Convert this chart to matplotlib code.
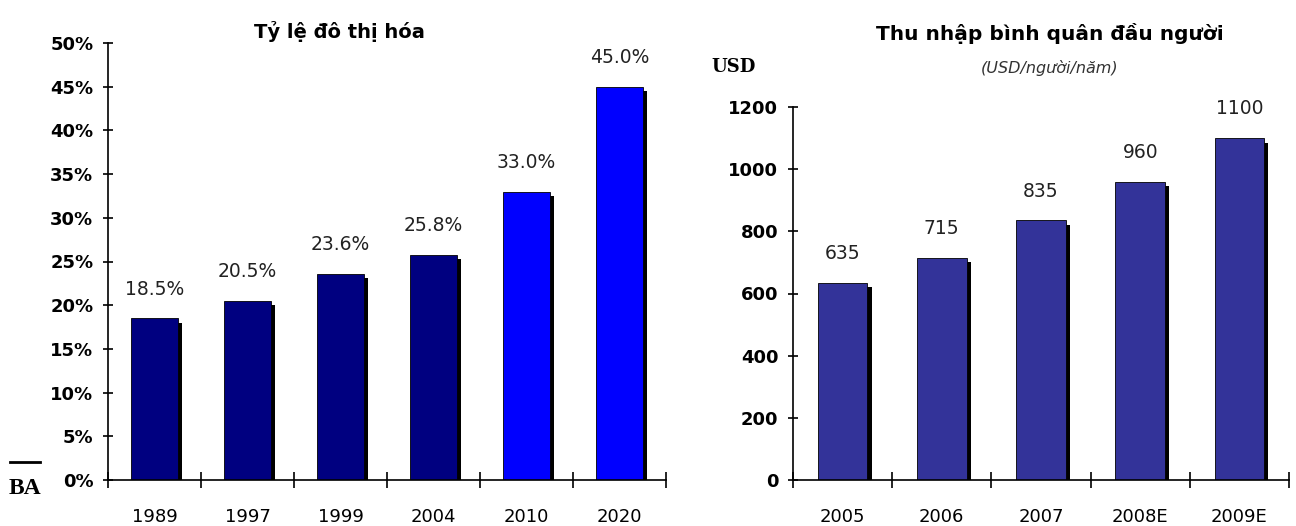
import numpy as np
import matplotlib.pyplot as plt
import matplotlib.patheffects as pe
from matplotlib.lines import Line2D
from matplotlib.transforms import Bbox, TransformedBbox

# Data
urban_years = ['1989', '1997', '1999', '2004', '2010', '2020']
urban_rate = [18.5, 20.5, 23.6, 25.8, 33.0, 45.0]
urban_colors = ['#000080', '#000080', '#000080', '#000080', '#0000ff', '#0000ff']

income_years = ['2005', '2006', '2007', '2008E', '2009E']
income_usd = [635, 715, 835, 960, 1100]
income_color = '#333399'

W, H = 1296, 526
fig = plt.figure(figsize=(W / 100, H / 100), dpi=100)
fig.patch.set_facecolor('white')


def px_axes(x0, x1, ytop, ybot):
    return fig.add_axes([x0 / W, 1 - ybot / H, (x1 - x0) / W, (ybot - ytop) / H])


shadow = [pe.SimplePatchShadow(offset=(3, -3.3), shadow_rgbFace='black', alpha=1.0), pe.Normal()]


def style_axes(ax, n):
    for s in ['top', 'right']:
        ax.spines[s].set_visible(False)
    ax.spines['left'].set_linewidth(1.2)
    ax.spines['bottom'].set_linewidth(1.2)
    ax.set_xlim(-0.5, n - 0.5)
    ax.set_xticks(np.arange(n))
    ax.set_xticks(np.arange(n + 1) - 0.5, minor=True)
    ax.tick_params(axis='x', which='major', length=0, pad=20, labelsize=13)
    ax.tick_params(axis='x', which='minor', direction='inout', length=12, width=1.2)
    ax.tick_params(axis='y', direction='inout', length=7, width=1.2, pad=7, labelsize=13)
    for lab in ax.get_yticklabels():
        lab.set_fontweight('bold')


# Left chart: urbanisation rate
ax1 = px_axes(108, 666, 43, 480)
x1 = np.arange(len(urban_years))
bars1 = ax1.bar(x1, urban_rate, width=0.5, color=urban_colors, edgecolor='black', linewidth=0.6)
for b in bars1:
    b.set_path_effects(shadow)
ax1.set_ylim(0, 50)
ax1.set_yticks(np.arange(0, 51, 5))
ax1.set_yticklabels([f'{v}%' for v in range(0, 51, 5)])
ax1.set_xticklabels(urban_years)
style_axes(ax1, len(urban_years))
for xi, v in zip(x1, urban_rate):
    ax1.annotate(f'{v:.1f}%', (xi, v), xytext=(0, 21), textcoords='offset points',
                 ha='center', va='center', fontsize=13.5, color='#222222')

# Right chart: income per capita
ax2 = px_axes(793, 1289, 107, 480)
x2 = np.arange(len(income_years))
bars2 = ax2.bar(x2, income_usd, width=0.5, color=income_color, edgecolor='black', linewidth=0.6)
for b in bars2:
    b.set_path_effects(shadow)
ax2.set_ylim(0, 1200)
ax2.set_yticks(np.arange(0, 1201, 200))
ax2.set_xticklabels(income_years)
style_axes(ax2, len(income_years))
for xi, v in zip(x2, income_usd):
    ax2.annotate(f'{v}', (xi, v), xytext=(0, 21), textcoords='offset points',
                 ha='center', va='center', fontsize=13.5, color='#222222')

# Titles
fig.text(339 / W, 1 - 31 / H, 'Tỷ lệ đô thị hóa', ha='center', va='center',
         fontsize=14, fontweight='bold')
fig.text(1050 / W, 1 - 33 / H, 'Thu nhập bình quân đầu người', ha='center', va='center',
         fontsize=14.5, fontweight='bold')
fig.text(1050 / W, 1 - 68 / H, '(USD/người/năm)', ha='center', va='center',
         fontsize=11.5, style='italic', color='#333333')
fig.text(734 / W, 1 - 67 / H, 'USD', ha='center', va='center',
         fontsize=13, fontweight='bold', family='DejaVu Serif')

# Cropped heading at the bottom-left edge
fig.add_artist(Line2D([10 / W, 40 / W], [1 - 462 / H, 1 - 462 / H], color='black', lw=2))
t = fig.text(9 / W, 1 - 489 / H, 'BA', ha='left', va='center', fontsize=17,
             fontweight='bold', family='Liberation Serif')
t.set_clip_box(TransformedBbox(Bbox([[0, 0], [42 / W, 1]]), fig.transFigure))

fig.savefig('out.png', dpi=100)
